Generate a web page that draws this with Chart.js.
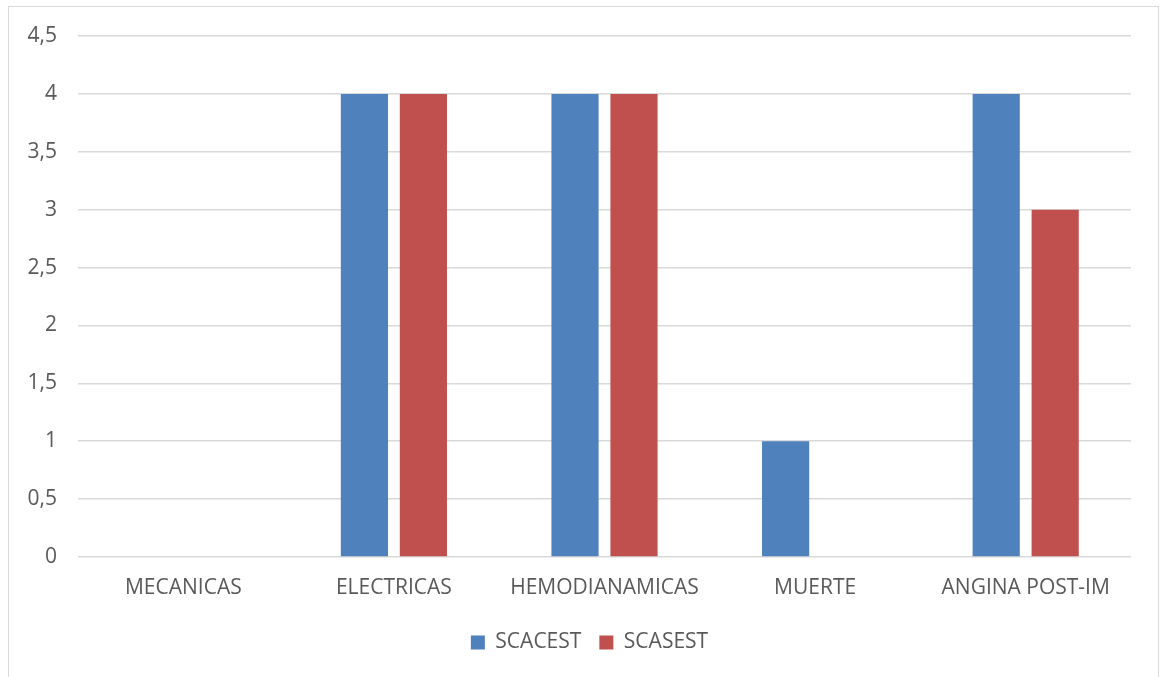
<!DOCTYPE html>
<html>
<head>
<meta charset="utf-8">
<script src="https://cdn.jsdelivr.net/npm/chart.js@4"></script>
<style>
html,body{margin:0;padding:0;background:#fff;overflow:hidden;}
#wrap{position:absolute;left:0;top:0;width:1160px;height:677px;}
</style>
</head>
<body>
<div id="wrap"><canvas id="c" width="1160" height="677"></canvas></div>
<script>
const categories = ['MECANICAS', 'ELECTRICAS', 'HEMODIANAMICAS', 'MUERTE', 'ANGINA POST-IM'];
const scacest = [0, 4, 4, 1, 4];
const scasest = [0, 4, 4, 0, 3];
const seriesNames = ['SCACEST', 'SCASEST'];

const FONT = '"Open Sans", "Noto Sans", sans-serif';
const TXT = '#595959';

const borderPlugin = {
  id: 'outerBorder',
  beforeDraw(chart) {
    const ctx = chart.ctx;
    ctx.save();
    ctx.fillStyle = '#fff';
    ctx.fillRect(0, 0, chart.width, chart.height);
    ctx.strokeStyle = '#d9d9d9';
    ctx.lineWidth = 1;
    ctx.strokeRect(8.5, 6.5, 1150, 720);
    ctx.restore();
  },
  afterLayout(chart) {
    const lg = chart.legend;
    if (lg) { lg.left += 24; lg.right += 24; }
  }
};

new Chart(document.getElementById('c'), {
  type: 'bar',
  data: {
    labels: categories,
    datasets: [
      { label: seriesNames[0], data: scacest, backgroundColor: '#4f81bd', borderWidth: 0 },
      { label: seriesNames[1], data: scasest, backgroundColor: '#c0504d', borderWidth: 0 }
    ]
  },
  options: {
    responsive: false,
    animation: false,
    datasets: { bar: { categoryPercentage: 0.56, barPercentage: 0.8 } },
    layout: { padding: { left: 0, right: 29, top: 36, bottom: 14 } },
    plugins: {
      tooltip: { enabled: false },
      legend: {
        position: 'bottom',
        labels: {
          font: { family: FONT, size: 21 },
          color: TXT,
          boxWidth: 14,
          boxHeight: 14,
          padding: 18
        }
      }
    },
    scales: {
      x: {
        grid: { display: false },
        border: { display: false },
        ticks: { font: { family: FONT, size: 21 }, color: TXT, padding: 10, maxRotation: 0 },
        afterFit(s) { s.height = 57; }
      },
      y: {
        min: 0, max: 4.5,
        grid: { color: '#d9d9d9', lineWidth: 1.5, drawTicks: false },
        border: { display: false },
        ticks: {
          stepSize: 0.5,
          font: { family: FONT, size: 21 },
          color: TXT,
          padding: 21,
          callback: v => String(v).replace('.', ',')
        },
        afterFit(s) { s.width = 78; }
      }
    }
  },
  plugins: [borderPlugin]
});
</script>
</body>
</html>
